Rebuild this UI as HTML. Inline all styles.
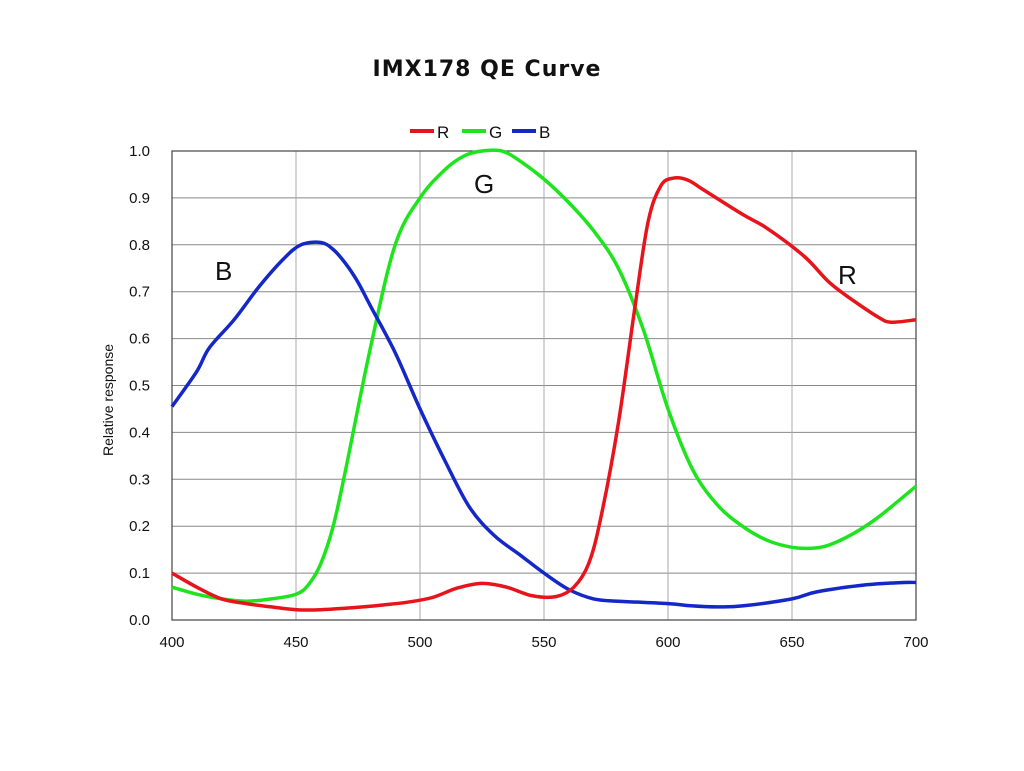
<!DOCTYPE html>
<html><head><meta charset="utf-8"><style>
html,body{margin:0;padding:0;background:#fff;}
svg{display:block;font-family:"Liberation Sans",Arial,sans-serif;}
</style></head><body>
<svg id="s" width="1024" height="771" viewBox="0 0 1024 771" xmlns="http://www.w3.org/2000/svg">
<rect width="1024" height="771" fill="#fff"/>
<text x="487" y="76" font-size="22" font-weight="600" text-anchor="middle" fill="#111" font-family="DejaVu Sans, sans-serif" letter-spacing="1">IMX178 QE Curve</text>
<g id="grid"></g>
<rect x="172" y="151" width="744" height="469" fill="none" stroke="#444" stroke-width="1.2"/>
<text x="113" y="400" font-size="14" text-anchor="middle" transform="rotate(-90 113 400)" fill="#111">Relative response</text>
<g font-size="17" fill="#111">
<line x1="410" y1="131" x2="434" y2="131" stroke="#e8141c" stroke-width="4"/><text x="437" y="138">R</text>
<line x1="462" y1="131" x2="486" y2="131" stroke="#1ee41e" stroke-width="4"/><text x="489" y="138">G</text>
<line x1="512" y1="131" x2="536" y2="131" stroke="#1428c8" stroke-width="4"/><text x="539" y="138">B</text>
</g>
<text x="215" y="280" font-size="26" fill="#111">B</text>
<text x="474" y="193" font-size="26" fill="#111">G</text>
<text x="838" y="284" font-size="26" fill="#111">R</text>
<g id="curves"></g>
</svg>
<script>
var X=function(n){return 172+(n-400)*2.48},Y=function(v){return 620-v*469};
var g=document.getElementById('grid'),h='';
for(var i=0;i<=10;i++){var y=Y(i/10);h+='<line x1="172" y1="'+y+'" x2="916" y2="'+y+'" stroke="#888" stroke-width="1"/>';
h+='<text x="150" y="'+(y+5)+'" font-size="15" text-anchor="end" fill="#111">'+(i/10).toFixed(1)+'</text>';}
for(var n=400;n<=700;n+=50){var x=X(n);h+='<line x1="'+x+'" y1="151" x2="'+x+'" y2="620" stroke="#aaa" stroke-width="1"/>';
h+='<text x="'+x+'" y="647" font-size="15" text-anchor="middle" fill="#111">'+n+'</text>';}
g.innerHTML=h;
var B=[[400,.455],[410,.53],[415,.58],[425,.64],[435,.71],[445,.77],[452,.80],[460,.805],[465,.79],[470,.76],[475,.72],[480,.67],[490,.57],[500,.45],[510,.34],[520,.24],[530,.18],[540,.14],[550,.10],[560,.065],[570,.045],[580,.04],[600,.035],[610,.03],[620,.028],[630,.03],[650,.045],[660,.06],[680,.075],[695,.08],[700,.08]];
var G=[[400,.07],[410,.055],[420,.045],[430,.04],[440,.045],[450,.055],[455,.075],[460,.12],[465,.2],[470,.32],[480,.58],[490,.8],[500,.9],[510,.96],[518,.99],[525,1.0],[533,1.0],[540,.98],[550,.94],[560,.89],[570,.83],[580,.75],[590,.62],[600,.45],[610,.32],[620,.245],[630,.2],[640,.17],[650,.155],[658,.153],[665,.16],[675,.185],[685,.22],[700,.285]];
var R=[[400,.1],[410,.07],[420,.045],[430,.035],[440,.028],[450,.022],[460,.022],[475,.027],[485,.032],[495,.038],[505,.048],[515,.068],[525,.078],[535,.07],[545,.052],[555,.05],[562,.07],[568,.12],[573,.22],[580,.42],[587,.68],[592,.85],[597,.925],[602,.942],[608,.938],[615,.915],[630,.865],[640,.835],[655,.775],[665,.72],[675,.68],[685,.645],[690,.635],[700,.64]];
function pl(d,c){var p=d.map(function(q){return [X(q[0]),Y(q[1])]});var s='M'+p[0][0].toFixed(1)+','+p[0][1].toFixed(1);
for(var i=0;i<p.length-1;i++){var p0=p[i-1]||p[i],p1=p[i],p2=p[i+1],p3=p[i+2]||p2;
var c1=[p1[0]+(p2[0]-p0[0])/6,p1[1]+(p2[1]-p0[1])/6],c2=[p2[0]-(p3[0]-p1[0])/6,p2[1]-(p3[1]-p1[1])/6];
s+='C'+c1[0].toFixed(1)+','+c1[1].toFixed(1)+' '+c2[0].toFixed(1)+','+c2[1].toFixed(1)+' '+p2[0].toFixed(1)+','+p2[1].toFixed(1);}
return '<path fill="none" stroke="'+c+'" stroke-width="3.5" stroke-linejoin="round" d="'+s+'"/>';}
document.getElementById('curves').innerHTML=pl(G,'#1ee41e')+pl(B,'#1428c8')+pl(R,'#e8141c');
</script>
</body></html>
